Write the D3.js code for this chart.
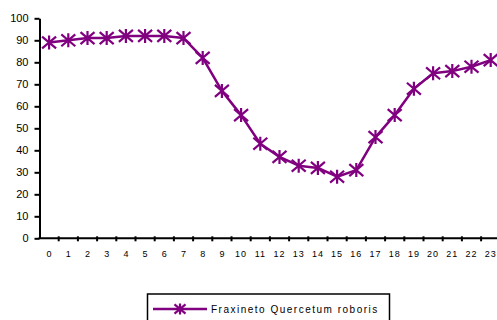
<!DOCTYPE html>
<html>
<head>
<meta charset="utf-8">
<script src="https://cdn.jsdelivr.net/npm/d3@7"></script>
<style>
  html, body { margin: 0; padding: 0; background: #fff; }
  svg { display: block; font-family: "Liberation Sans", Arial, sans-serif; }
</style>
</head>
<body>
<svg id="chart" width="497" height="320"></svg>
<script>
// Hours of the day and the measured series
const hours = d3.range(0, 24).map(String);
const seriesName = "Fraxineto Quercetum roboris";
const values = [89, 90, 91, 91, 92, 92, 92, 91, 82, 67, 56, 43, 37, 33, 32, 28, 31, 46, 56, 68, 75, 76, 78, 81];
const yTicks = [0, 10, 20, 30, 40, 50, 60, 70, 80, 90, 100];

const color = "#800080";
const svg = d3.select("#chart");

const x = d3.scaleBand().domain(hours).range([39.5, 500.3]).padding(0);
const y = d3.scaleLinear().domain([0, 100]).range([238.3, 18.3]);

// Y axis
const yAxis = svg.append("g")
  .attr("transform", "translate(39.5,0)")
  .call(d3.axisLeft(y).tickValues(yTicks).tickSize(5).tickPadding(6).tickSizeOuter(0));
yAxis.select(".domain").attr("stroke", "#000").attr("stroke-width", 2);
yAxis.selectAll(".tick line").attr("stroke", "#000").attr("stroke-width", 2);
yAxis.selectAll(".tick text").attr("font-size", 11).attr("fill", "#000")
  .attr("font-family", "Liberation Sans, Arial, sans-serif");

// X axis: tick marks at category boundaries, labels centred in each category
const xAxisG = svg.append("g").attr("transform", `translate(0,${y(0)})`);
xAxisG.append("line")
  .attr("x1", 38.5).attr("x2", 497)
  .attr("stroke", "#000").attr("stroke-width", 2);
xAxisG.selectAll("line.tk")
  .data(hours.slice(1))
  .join("line")
  .attr("class", "tk")
  .attr("x1", d => x(d)).attr("x2", d => x(d))
  .attr("y1", -2).attr("y2", 3)
  .attr("stroke", "#000").attr("stroke-width", 2);
xAxisG.selectAll("text")
  .data(hours)
  .join("text")
  .attr("x", d => x(d) + x.bandwidth() / 2)
  .attr("y", 19)
  .attr("text-anchor", "middle")
  .attr("font-size", 9)
  .attr("letter-spacing", d => d.length > 1 ? 1 : 0)
  .attr("fill", "#000")
  .text(d => d);

// Asterisk marker
function star(s) {
  const h = s * 0.85;
  return `M${-s},${-h}L${s},${h}M${-s},${h}L${s},${-h}M0,${-s}L0,${s}`;
}

const cx = d => x(d) + x.bandwidth() / 2;

svg.append("path")
  .datum(values)
  .attr("fill", "none")
  .attr("stroke", color)
  .attr("stroke-width", 2.5)
  .attr("stroke-linejoin", "round")
  .attr("d", d3.line().x((d, i) => cx(hours[i])).y(d => y(d)));

svg.selectAll("path.mk")
  .data(values)
  .join("path")
  .attr("class", "mk")
  .attr("transform", (d, i) => `translate(${cx(hours[i])},${y(d)})`)
  .attr("d", star(7))
  .attr("fill", "none")
  .attr("stroke", color)
  .attr("stroke-width", 2.2);

// Legend
const lg = svg.append("g");
lg.append("rect")
  .attr("x", 147.5).attr("y", 294).attr("width", 242).attr("height", 40)
  .attr("fill", "#fff").attr("stroke", "#000").attr("stroke-width", 1.5);
lg.append("line")
  .attr("x1", 153).attr("x2", 207).attr("y1", 309).attr("y2", 309)
  .attr("stroke", color).attr("stroke-width", 2.5);
lg.append("path")
  .attr("transform", "translate(180,309)")
  .attr("d", star(5.5))
  .attr("fill", "none").attr("stroke", color).attr("stroke-width", 2.2);
lg.append("text")
  .attr("x", 211).attr("y", 313)
  .attr("font-size", 10)
  .attr("letter-spacing", 1.5)
  .attr("fill", "#000")
  .text(seriesName);
</script>
</body>
</html>
